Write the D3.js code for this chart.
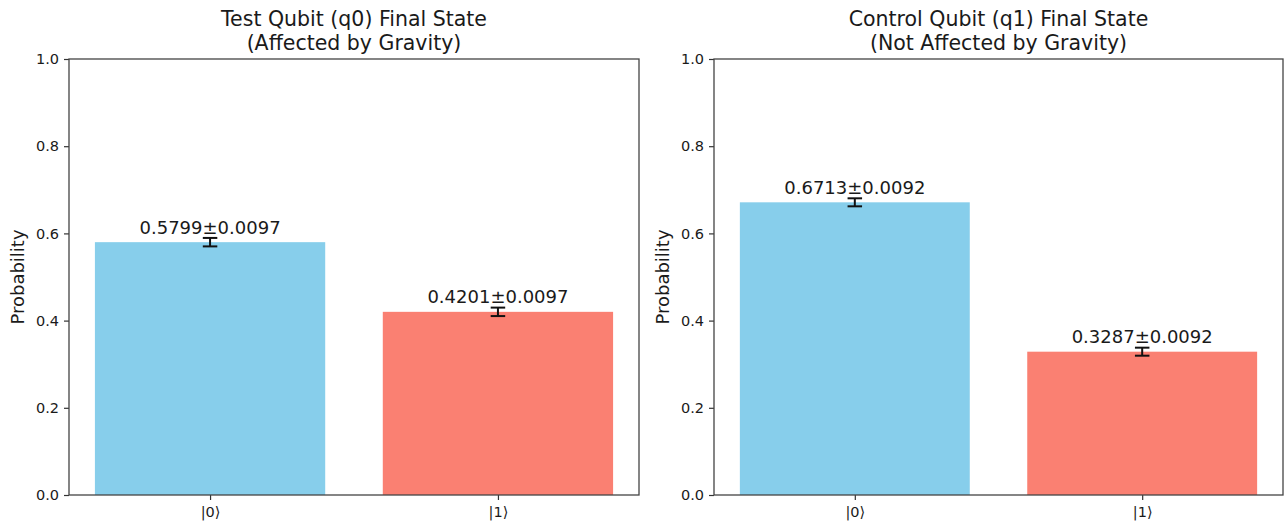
<!DOCTYPE html>
<html>
<head>
<meta charset="utf-8">
<script src="https://cdn.jsdelivr.net/npm/d3@7"></script>
<style>
  body { margin: 0; background: #fff; }
  svg text { font-family: "DejaVu Sans", sans-serif; fill: #1a1a1a; }
</style>
</head>
<body>
<div id="chart"></div>
<script>
// data
var states = ["|0\u27E9", "|1\u27E9"];
var barColors = ["#87CEEB", "#FA8072"];
var q0Prob = [0.5799, 0.4201];
var q0Err = [0.0097, 0.0097];
var q1Prob = [0.6713, 0.3287];
var q1Err = [0.0092, 0.0092];
var yTicks = [0, 0.2, 0.4, 0.6, 0.8, 1.0];
var titles = [
  ["Test Qubit (q0) Final State", "(Affected by Gravity)"],
  ["Control Qubit (q1) Final State", "(Not Affected by Gravity)"]
];

function drawChart() {
  var svgWidth = 1284, svgHeight = 525;
  var svg = d3.select("#chart").append("svg")
    .attr("width", svgWidth)
    .attr("height", svgHeight);

  //one panel per qubit
  var panels = [
    {left: 69, width: 570, probs: q0Prob, errs: q0Err, title: titles[0]},
    {left: 714, width: 569, probs: q1Prob, errs: q1Err, title: titles[1]}
  ];
  var axTop = 59, height = 436;

  panels.forEach(function(p) {
    var g = svg.append("g").attr("transform", `translate(${p.left}, ${axTop})`);

    var x = d3.scaleLinear().domain([-0.49, 1.49]).range([0, p.width]);
    var y = d3.scaleLinear().domain([0, 1]).range([height, 0]);

    // bars
    g.selectAll("rect.bar")
      .data(p.probs)
      .enter()
      .append("rect")
      .attr("class", "bar")
      .attr("x", (d, i) => x(i - 0.4))
      .attr("width", (d, i) => x(i + 0.4) - x(i - 0.4))
      .attr("y", d => y(d))
      .attr("height", d => y(0) - y(d))
      .attr("fill", (d, i) => barColors[i]);

    // error bars
    var eb = g.selectAll("g.err")
      .data(p.probs)
      .enter()
      .append("g")
      .attr("class", "err");
    eb.append("line")
      .attr("x1", (d, i) => x(i)).attr("x2", (d, i) => x(i))
      .attr("y1", (d, i) => y(d - p.errs[i]))
      .attr("y2", (d, i) => y(d + p.errs[i]));
    eb.append("line")
      .attr("x1", (d, i) => x(i) - 7.25).attr("x2", (d, i) => x(i) + 7.25)
      .attr("y1", (d, i) => y(d - p.errs[i]))
      .attr("y2", (d, i) => y(d - p.errs[i]));
    eb.append("line")
      .attr("x1", (d, i) => x(i) - 7.25).attr("x2", (d, i) => x(i) + 7.25)
      .attr("y1", (d, i) => y(d + p.errs[i]))
      .attr("y2", (d, i) => y(d + p.errs[i]));
    eb.selectAll("line").attr("stroke", "#111").attr("stroke-width", 2);

    // value labels
    g.selectAll("text.val")
      .data(p.probs)
      .enter()
      .append("text")
      .attr("class", "val")
      .attr("x", (d, i) => x(i))
      .attr("y", (d, i) => y(d + p.errs[i] + 0.01))
      .attr("text-anchor", "middle")
      .attr("font-size", "18px")
      .text((d, i) => `${d.toFixed(4)}\u00B1${p.errs[i].toFixed(4)}`);

    // axes
    var yAxis = g.append("g")
      .call(d3.axisLeft(y).tickValues(yTicks).tickFormat(d3.format(".1f")).tickSize(5).tickPadding(5));
    var xAxis = g.append("g")
      .attr("transform", `translate(0, ${height})`)
      .call(d3.axisBottom(x).tickValues([0, 1]).tickFormat(i => states[i]).tickSize(5).tickPadding(7));
    [xAxis, yAxis].forEach(function(a) {
      a.select(".domain").remove();
      a.selectAll("line").attr("stroke", "#333").attr("stroke-width", 1.2);
      a.selectAll("text").attr("font-size", "14.5px").attr("fill", "#1a1a1a")
        .style("font-family", "'DejaVu Sans', sans-serif");
    });

    // frame
    g.append("rect")
      .attr("width", p.width)
      .attr("height", height)
      .attr("fill", "none")
      .attr("stroke", "#444")
      .attr("stroke-width", 1.3);

    // y label
    g.append("text")
      .attr("transform", "rotate(-90)")
      .attr("x", -height / 2)
      .attr("y", -51)
      .attr("dy", "0.35em")
      .attr("text-anchor", "middle")
      .attr("font-size", "18px")
      .text("Probability");

    // title, two lines
    g.append("text")
      .attr("x", p.width / 2)
      .attr("y", 26 - axTop)
      .attr("text-anchor", "middle")
      .attr("font-size", "20.5px")
      .text(p.title[0]);
    g.append("text")
      .attr("x", p.width / 2)
      .attr("y", 50 - axTop)
      .attr("text-anchor", "middle")
      .attr("font-size", "20.5px")
      .text(p.title[1]);
  });
}
drawChart();
</script>
</body>
</html>
